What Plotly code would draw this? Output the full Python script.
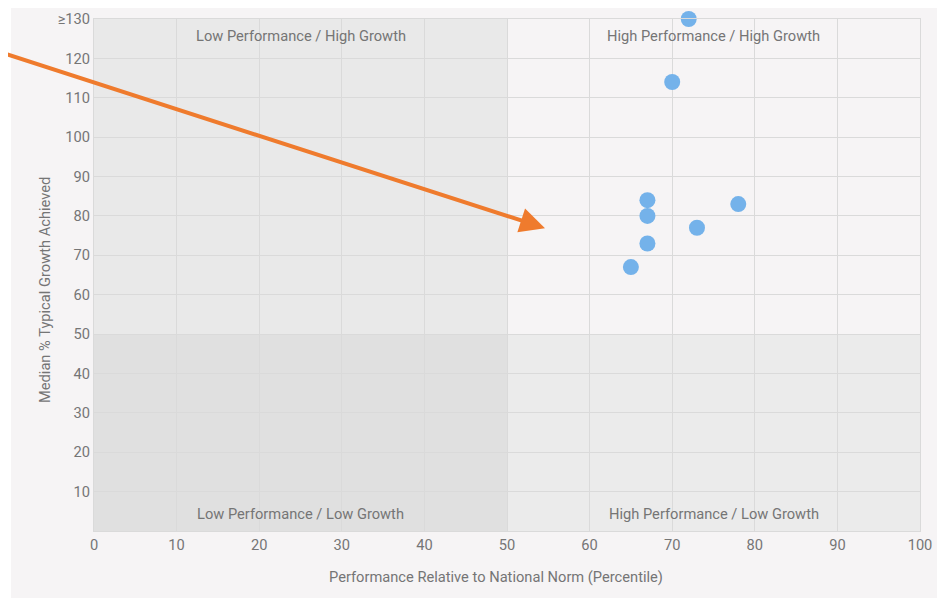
import plotly.graph_objects as go

# Data
perf = [72, 70, 67, 67, 78, 73, 67, 65]
growth = [130, 114, 84, 80, 83, 77, 73, 67]

x_ticks = [0, 10, 20, 30, 40, 50, 60, 70, 80, 90, 100]
y_ticks = [10, 20, 30, 40, 50, 60, 70, 80, 90, 100, 110, 120, 130]
y_ticktext = ["10", "20", "30", "40", "50", "60", "70", "80", "90", "100", "110", "120", "≥130"]

quad_labels = ["Low Performance / High Growth", "High Performance / High Growth",
               "Low Performance / Low Growth", "High Performance / Low Growth"]
quad_x = [25, 75, 25, 75]

x_title = "Performance Relative to National Norm (Percentile)"
y_title = "Median % Typical Growth Achieved"

arrow_start = (-11.4, 121.6)
arrow_end = (54.6, 76.9)

FONT = "Roboto"
TXT = "#757575"
GRID = "#dadada"
FS = 14.67

fig = go.Figure()
fig.add_trace(go.Scatter(
    x=perf, y=growth, mode="markers",
    marker=dict(size=16, color="#74b2ea", line=dict(width=0)),
    cliponaxis=False, showlegend=False, hoverinfo="x+y"))

shapes = [
    # panel
    dict(type="rect", xref="paper", yref="paper", x0=-0.1005, x1=1.1, y0=-0.2, y1=1.1,
         fillcolor="#f6f4f5", line=dict(width=0), layer="below"),
    # quadrants
    dict(type="rect", xref="x", yref="y", x0=0, x1=50, y0=50, y1=130,
         fillcolor="#e9e9e9", line=dict(width=0), layer="below"),
    dict(type="rect", xref="x", yref="y", x0=0, x1=50, y0=0, y1=50,
         fillcolor="#e0e0e0", line=dict(width=0), layer="below"),
    dict(type="rect", xref="x", yref="y", x0=50, x1=100, y0=0, y1=50,
         fillcolor="#ebebeb", line=dict(width=0), layer="below"),
]

annotations = []
for i, lab in enumerate(quad_labels):
    top = i < 2
    annotations.append(dict(
        text=lab, x=quad_x[i], xref="x",
        y=1 if top else 0, yref="paper",
        yanchor="top" if top else "bottom",
        yshift=-6 if top else 6,
        showarrow=False, font=dict(family=FONT, size=FS, color=TXT)))

annotations.append(dict(
    text=y_title, textangle=-90, x=-0.0593, y=0.4707, xref="paper", yref="paper",
    xanchor="center", yanchor="middle", showarrow=False,
    font=dict(family=FONT, size=FS, color=TXT)))
annotations.append(dict(
    text=x_title, x=0.4867, y=-0.0898, xref="paper", yref="paper",
    xanchor="center", yanchor="middle", showarrow=False,
    font=dict(family=FONT, size=FS, color=TXT)))

annotations.append(dict(
    text="", x=arrow_end[0], y=arrow_end[1], xref="x", yref="y",
    ax=arrow_start[0], ay=arrow_start[1], axref="x", ayref="y",
    showarrow=True, arrowhead=2, arrowsize=1.25, arrowwidth=4,
    arrowcolor="#ef7b2d", standoff=0))

fig.update_layout(
    width=937, height=590,
    margin=dict(l=86, r=25, t=11, b=67, autoexpand=False),
    paper_bgcolor="white", plot_bgcolor="rgba(0,0,0,0)",
    font=dict(family=FONT, color=TXT, size=FS),
    shapes=shapes, annotations=annotations,
    xaxis=dict(range=[0, 100], tickvals=x_ticks, showgrid=True, gridcolor=GRID,
               zeroline=False, showline=True, mirror=True, linecolor=GRID,
               ticks="", tickfont=dict(size=FS, color=TXT), automargin=False),
    yaxis=dict(range=[0, 130], tickvals=y_ticks, ticktext=y_ticktext, showgrid=True,
               gridcolor=GRID, zeroline=False, showline=True, mirror=True, linecolor=GRID,
               ticks="", tickfont=dict(size=FS, color=TXT), automargin=False),
)

fig.write_html("out.html")
